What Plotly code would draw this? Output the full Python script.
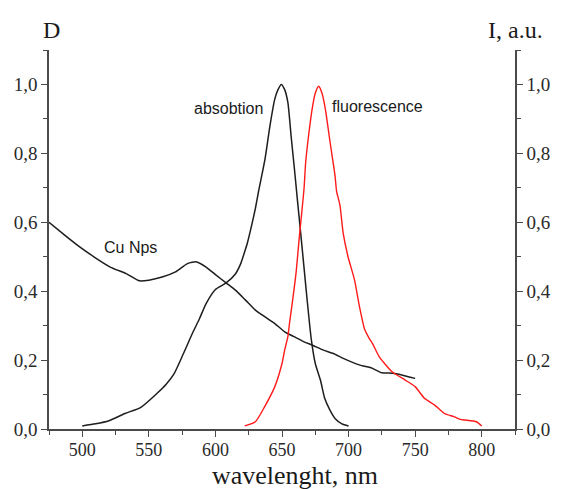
import plotly.graph_objects as go

# Copper nanoparticle extinction (left axis, D)
cu_wl = [475, 487, 496.5, 509, 521, 533, 543, 550, 560, 570, 579, 586, 593, 600,
         608, 615, 622.6, 630, 637, 644.6, 652, 659, 666.6, 673, 681, 688.6, 696,
         708, 718, 725, 733, 740, 750]
cu_d = [0.600, 0.562, 0.533, 0.499, 0.470, 0.451, 0.430, 0.432, 0.441, 0.456, 0.480,
        0.485, 0.470, 0.448, 0.424, 0.403, 0.374, 0.345, 0.326, 0.306, 0.282, 0.268,
        0.253, 0.243, 0.229, 0.219, 0.205, 0.186, 0.176, 0.163, 0.162, 0.157, 0.147]

# Dye absorption (left axis, D)
abs_wl = [500, 510, 520, 532, 544, 556, 563, 569, 576, 583, 588, 593, 600, 608, 615,
          619, 622, 624, 627.5, 630, 632.4, 637.3, 641, 644.6, 647, 649.5, 652, 654.4,
          656.8, 659.3, 661.7, 664, 666.5, 669, 672, 675, 679, 682, 686, 690, 695, 700]
abs_d = [0.009, 0.015, 0.024, 0.045, 0.063, 0.103, 0.130, 0.161, 0.219, 0.280, 0.320,
         0.364, 0.405, 0.424, 0.450, 0.480, 0.515, 0.540, 0.596, 0.640, 0.690, 0.785,
         0.881, 0.958, 0.985, 1.000, 0.985, 0.948, 0.852, 0.756, 0.660, 0.570, 0.470,
         0.370, 0.260, 0.190, 0.140, 0.090, 0.055, 0.030, 0.015, 0.009]

# Dye fluorescence (right axis, I)
fl_wl = [622, 630, 637, 644.6, 650, 652, 654.4, 655.6, 658, 660.5, 663, 665.4, 666.6,
         667.8, 670.3, 672.7, 675, 677.6, 680, 682.5, 686.1, 689.8, 691, 693.5, 696,
         699.6, 704.5, 708.2, 712, 715.5, 718, 723, 732.7, 742.5, 750, 757, 764.5, 772,
         779, 784, 796, 800]
fl_i = [0.009, 0.021, 0.065, 0.123, 0.190, 0.229, 0.268, 0.306, 0.374, 0.451, 0.557,
        0.650, 0.700, 0.775, 0.862, 0.930, 0.975, 0.995, 0.975, 0.930, 0.833, 0.736,
        0.690, 0.650, 0.567, 0.500, 0.432, 0.355, 0.290, 0.263, 0.248, 0.210, 0.166,
        0.142, 0.123, 0.089, 0.070, 0.045, 0.036, 0.028, 0.021, 0.009]

x_ticks = [500, 550, 600, 650, 700, 750, 800]
y_ticks = [0.0, 0.2, 0.4, 0.6, 0.8, 1.0]

SERIF = "Liberation Serif, Times New Roman, serif"
SANS = "Liberation Sans, Arial, sans-serif"
AXIS_COLOR = "#4a4a4a"

fig = go.Figure()
fig.add_trace(go.Scatter(x=cu_wl, y=cu_d, mode="lines", name="Cu Nps",
                         line=dict(color="#1e1e1e", width=1.5, shape="spline", smoothing=0.6)))
fig.add_trace(go.Scatter(x=abs_wl, y=abs_d, mode="lines", name="absobtion",
                         line=dict(color="#1e1e1e", width=1.5, shape="spline", smoothing=0.6)))
fig.add_trace(go.Scatter(x=fl_wl, y=fl_i, mode="lines", name="fluorescence", yaxis="y2",
                         line=dict(color="#ff1a1a", width=1.4, shape="spline", smoothing=0.6)))

axis_common = dict(
    showline=True, linecolor=AXIS_COLOR, linewidth=1.5,
    showgrid=False, zeroline=False,
    ticks="outside", ticklen=6, tickwidth=1.3, tickcolor=AXIS_COLOR,
    tickfont=dict(family=SERIF, size=19, color="#2a2a2a"),
)

fig.update_layout(
    width=563, height=489,
    margin=dict(l=49, r=36, t=50, b=60),
    paper_bgcolor="white", plot_bgcolor="white",
    showlegend=False,
    separators=", ",
    xaxis=dict(range=[475, 825], tickvals=x_ticks, ticklabelstandoff=-2,
               minor=dict(dtick=25, tick0=475, ticks="outside", ticklen=4,
                          tickwidth=1.2, tickcolor=AXIS_COLOR),
               **axis_common),
    yaxis=dict(range=[0, 1.1], tickvals=y_ticks, tickformat=".1f",
               minor=dict(dtick=0.1, tick0=0, ticks="outside", ticklen=4,
                          tickwidth=1.2, tickcolor=AXIS_COLOR),
               **axis_common),
    yaxis2=dict(range=[0, 1.1], tickvals=y_ticks, tickformat=".1f",
                overlaying="y", side="right",
                minor=dict(dtick=0.1, tick0=0, ticks="outside", ticklen=4,
                           tickwidth=1.2, tickcolor=AXIS_COLOR),
                **axis_common),
)
fig.update_xaxes(tickfont_size=18)

annotations = [
    dict(text="D", x=0.006, y=1.053, font=dict(family=SERIF, size=24, color="#1a1a1a")),
    dict(text="I, a.u.", x=1.0, y=1.053, font=dict(family=SERIF, size=24, color="#1a1a1a")),
    dict(text="wavelenght, nm", x=0.527, y=-0.122, font=dict(family=SERIF, size=26, color="#1a1a1a")),
    dict(text="absobtion", x=233.5, y=0.93, xref="x", yref="y",
         font=dict(family=SANS, size=16, color="#1a1a1a")),
    dict(text="fluorescence", x=385.5, y=0.935, xref="x", yref="y",
         font=dict(family=SANS, size=16, color="#1a1a1a")),
    dict(text="Cu Nps", x=133, y=0.528, xref="x", yref="y",
         font=dict(family=SANS, size=16, color="#1a1a1a")),
]
for a in annotations:
    a.setdefault("xref", "paper")
    a.setdefault("yref", "paper")
    a.update(showarrow=False, xanchor="center", yanchor="middle")

# data-space labels are positioned by pixel column, converted to wavelength
px_to_wl = lambda px: 475 + (px - 49) / 478 * 350
for a in annotations:
    if a["xref"] == "x":
        a["x"] = px_to_wl(a["x"])

fig.update_layout(annotations=annotations)
fig.write_html("out.html")
